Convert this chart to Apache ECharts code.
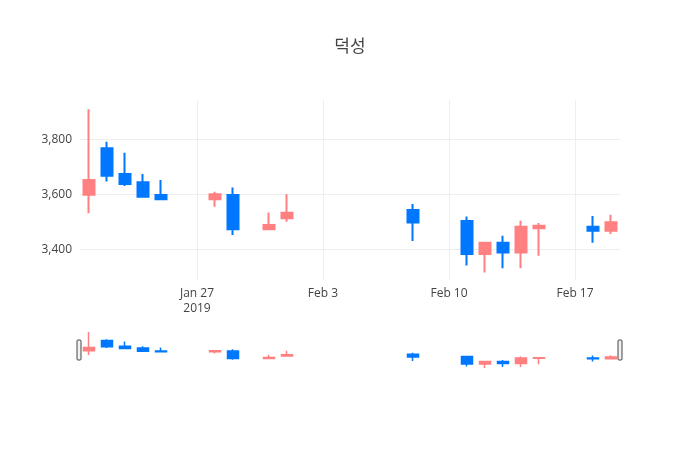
<!DOCTYPE html><html><head><meta charset="utf-8">
<script src="https://cdn.jsdelivr.net/npm/echarts@6/dist/echarts.min.js"></script>
<style>html,body{margin:0;background:#fff}#c{width:700px;height:450px}</style></head><body><div id="c"></div><script>
const dates=['2019-01-21','2019-01-22','2019-01-23','2019-01-24','2019-01-25','2019-01-28','2019-01-29','2019-01-31','2019-02-01','2019-02-08','2019-02-11','2019-02-12','2019-02-13','2019-02-14','2019-02-15','2019-02-18','2019-02-19'];
const open =[3598,3767,3674,3644,3597,3582,3597,3473,3513,3543,3503,3383,3424,3388,3476,3482,3467];
const close=[3652,3667,3637,3591,3582,3600,3473,3488,3533,3497,3383,3424,3388,3482,3485,3467,3498];
const low  =[3531,3646,3630,3591,3582,3555,3452,3473,3500,3430,3341,3315,3331,3331,3376,3424,3455];
const high =[3909,3791,3751,3674,3652,3609,3625,3534,3600,3565,3519,3424,3449,3504,3495,3521,3525];
const yTicks=[3400,3600,3800];
const xTicks=['2019-01-27','2019-02-03','2019-02-10','2019-02-17'];
const xTickLabels=['Jan 27\n2019','Feb 3','Feb 10','Feb 17'];
const DAY=86400000, base=new Date('2019-01-01T00:00:00Z').getTime();
const dn_=d=>(new Date(d+'T00:00:00Z').getTime()-base)/DAY;
const data=dates.map((d,i)=>[dn_(d),open[i],close[i],low[i],high[i]]);
const xmin=dn_('2019-01-20')+0.5, xmax=dn_('2019-02-19')+0.5;
const up='#ff8080', dn='#0077ff';
const xt=xTicks.map(dn_);
const chart=echarts.init(document.getElementById('c'));
chart.setOption({
  animation:false,
  title:{text:'덕성',left:'center',top:32,textStyle:{fontFamily:'Noto Sans CJK KR',fontSize:17,fontWeight:'normal',color:'#444'}},
  grid:[{left:80,right:80,top:100,height:180},{left:80,right:80,top:332,height:36}],
  xAxis:[{type:'value',gridIndex:0,min:xmin,max:xmax,axisLine:{show:false},
    axisTick:{show:false,customValues:xt},
    axisLabel:{customValues:xt,color:'#444',fontSize:12,fontFamily:'Open Sans',lineHeight:15,margin:6,
      formatter:v=>{const i=xt.indexOf(v);return i>=0?xTickLabels[i]:'';}},
    splitLine:{show:true,lineStyle:{color:'#eee'}}},
   {type:'value',gridIndex:1,min:xmin,max:xmax,axisLine:{show:false},axisTick:{show:false},axisLabel:{show:false},splitLine:{show:false}}],
  yAxis:[{type:'value',gridIndex:0,min:3288,max:3943,axisLine:{show:false},
    axisTick:{show:false,customValues:yTicks},
    axisLabel:{customValues:yTicks,color:'#444',fontSize:12,fontFamily:'Open Sans'},
    splitLine:{show:true,lineStyle:{color:'#eee'}}},
   {type:'value',gridIndex:1,min:3315,max:3909,show:false,splitLine:{show:false}}],
  series:[{type:'candlestick',xAxisIndex:0,yAxisIndex:0,data:data,barWidth:11,
    itemStyle:{color:up,color0:dn,borderColor:up,borderColor0:dn,borderWidth:2}},
   {type:'candlestick',xAxisIndex:1,yAxisIndex:1,data:data,barWidth:11,
    itemStyle:{color:up,color0:dn,borderColor:up,borderColor0:dn,borderWidth:1.5}}],
  graphic:[
    {type:'rect',shape:{x:77,y:340,width:4,height:20,r:1},style:{fill:'#f2f2f2',stroke:'#444',lineWidth:1}},
    {type:'rect',shape:{x:618,y:340,width:4,height:20,r:1},style:{fill:'#f2f2f2',stroke:'#444',lineWidth:1}}
  ]
});
</script></body></html>
